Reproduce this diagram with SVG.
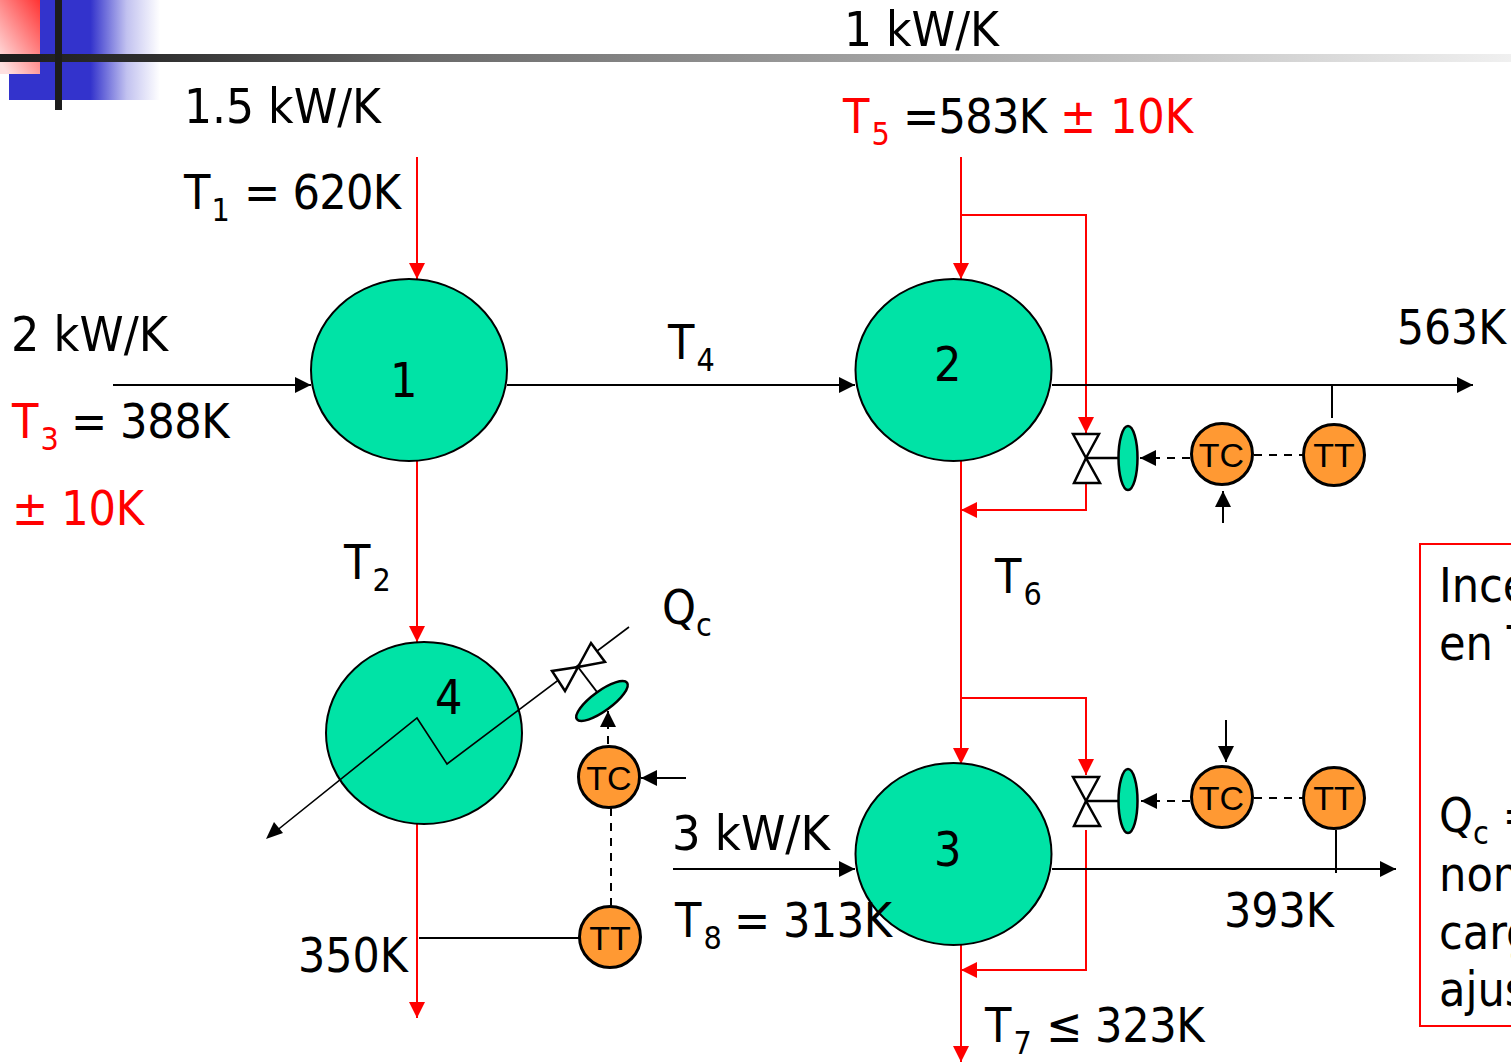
<svg xmlns="http://www.w3.org/2000/svg" width="1511" height="1062" viewBox="0 0 1511 1062">
<style>
text{font-family:"DejaVu Sans Condensed","DejaVu Sans",sans-serif;fill:#000}
.t{font-size:48px}
.s{font-size:32px}
.r{fill:#f00}
.blk{fill:#000}
.nar{letter-spacing:-0.7px}
.i{font-family:"Liberation Sans",Arial,sans-serif;font-size:34px;text-anchor:middle}
.k{fill:none;stroke:#000;stroke-width:2}
.kt{fill:none;stroke:#000;stroke-width:1.6}
.d{fill:none;stroke:#000;stroke-width:2;stroke-dasharray:8 7}
.f{fill:none;stroke:#f00;stroke-width:2}
.n{fill:#00e3a6;stroke:#000;stroke-width:2}
.o{fill:#ff9933;stroke:#000;stroke-width:3}
.v{fill:#fff;stroke:#000;stroke-width:2.5}
.va{fill:#00e3a6;stroke:#000;stroke-width:2.5}
</style>
<defs>
<linearGradient id="b" x1="0" x2="1" y1="0" y2="0"><stop offset="0" stop-color="#3333cc"/><stop offset="0.54" stop-color="#3333cc"/><stop offset="0.78" stop-color="#3333cc" stop-opacity="0.3"/><stop offset="1" stop-color="#3333cc" stop-opacity="0"/></linearGradient>
<linearGradient id="rg" x1="1" y1="0" x2="0.2" y2="1"><stop offset="0" stop-color="#ff3333"/><stop offset="1" stop-color="#ffe0e0"/></linearGradient>
<linearGradient id="bar" x1="0" x2="1" y1="0" y2="0"><stop offset="0" stop-color="#1c1c1c"/><stop offset="0.1" stop-color="#2e2e2e"/><stop offset="0.28" stop-color="#6a6a6a"/><stop offset="1" stop-color="#f0f0f0"/></linearGradient>
<marker id="ar" markerUnits="userSpaceOnUse" markerWidth="18" markerHeight="16" refX="16" refY="8" orient="auto"><path d="M0 0L16 8L0 16Z" fill="#f00"/></marker>
<marker id="ak" markerUnits="userSpaceOnUse" markerWidth="18" markerHeight="16" refX="16" refY="8" orient="auto"><path d="M0 0L16 8L0 16Z" fill="#000"/></marker>
</defs>

<g id="header">
<rect x="9" y="0" width="151" height="100" fill="url(#b)"/>
<rect x="0" y="0" width="40" height="74" fill="url(#rg)"/>
<rect x="0" y="54" width="1511" height="8" fill="url(#bar)"/>
<rect x="55" y="0" width="7" height="110" fill="#1c1c1c"/>
</g>

<g id="connectors">
<path class="f" d="M417 157V279" marker-end="url(#ar)"/>
<path class="f" d="M961 157V279" marker-end="url(#ar)"/>
<path class="f" d="M961 215H1086V433" marker-end="url(#ar)"/>
<path class="f" d="M1086 483V510H961" marker-end="url(#ar)"/>
<path class="f" d="M417 461V642" marker-end="url(#ar)"/>
<path class="f" d="M961 461V764" marker-end="url(#ar)"/>
<path class="f" d="M961 698H1086V775" marker-end="url(#ar)"/>
<path class="f" d="M1086 830V970H961" marker-end="url(#ar)"/>
<path class="f" d="M417 824V1018" marker-end="url(#ar)"/>
<path class="f" d="M961 945V1062" marker-end="url(#ar)"/>
<path class="k" d="M113 385H311" marker-end="url(#ak)"/>
<path class="k" d="M507 385H855" marker-end="url(#ak)"/>
<path class="k" d="M1052 385H1473" marker-end="url(#ak)"/>
<path class="k" d="M673 869H855" marker-end="url(#ak)"/>
<path class="k" d="M1052 869H1396" marker-end="url(#ak)"/>
<path class="k" d="M1332 385V418"/>
<path class="k" d="M1336 830V873"/>
<path class="k" d="M419 938H579"/>
<path class="d" d="M1190 458H1140" marker-end="url(#ak)"/>
<path class="d" d="M1254 455H1303"/>
<path class="d" d="M1190 801H1141" marker-end="url(#ak)"/>
<path class="d" d="M1254 798H1303"/>
<path class="d" d="M611 808V906"/>
<path class="d" d="M608 744V711" marker-end="url(#ak)"/>
<path class="k" d="M1223 523V491" marker-end="url(#ak)"/>
<path class="k" d="M1226 720V762" marker-end="url(#ak)"/>
<path class="k" d="M686 778H641" marker-end="url(#ak)"/>
</g>

<g id="node-1"><ellipse class="n" cx="409" cy="370" rx="98" ry="91"/><text class="t" x="390" y="397">1</text></g>
<g id="node-2"><ellipse class="n" cx="953.500" cy="370" rx="98" ry="91"/><text class="t" x="934" y="381">2</text></g>
<g id="node-3"><ellipse class="n" cx="953.500" cy="854" rx="98" ry="91"/><text class="t" x="934" y="866">3</text></g>
<g id="node-4"><ellipse class="n" cx="424" cy="733" rx="98" ry="91"/><text class="t" x="435" y="714">4</text></g>

<g id="coil-4">
<path class="kt" d="M629 627L447 764L417 718L270 836" />
<path d="M266 839L283 833L274 822Z" fill="#000"/>
<path class="v" d="M578 667L552 671L565 691Z"/>
<path class="v" d="M578 667L591 643L605 662Z"/>
<path class="k" d="M578 667L597 692"/>
<ellipse class="va" cx="602" cy="701" rx="31" ry="10" transform="rotate(-36 602 701)"/>
</g>

<g id="valve-2">
<path class="v" d="M1086 458L1073 434H1099Z"/>
<path class="v" d="M1086 458L1074 483H1100Z"/>
<path class="k" d="M1086 458H1119" style="stroke-width:2.500"/>
<ellipse class="va" cx="1128" cy="458" rx="9.500" ry="32"/>
</g>
<g id="valve-3">
<path class="v" d="M1086 801L1073 777H1099Z"/>
<path class="v" d="M1086 801L1074 826H1100Z"/>
<path class="k" d="M1086 801H1119" style="stroke-width:2.500"/>
<ellipse class="va" cx="1128" cy="801" rx="9.500" ry="32"/>
</g>

<g id="tc-2"><circle class="o" cx="1222" cy="454" r="30.500"/><text class="i" x="1221.500" y="467">TC</text></g>
<g id="tt-2"><circle class="o" cx="1334" cy="455" r="30.500"/><text class="i" x="1334" y="467">TT</text></g>
<g id="tc-3"><circle class="o" cx="1222" cy="797" r="30.500"/><text class="i" x="1221.500" y="810">TC</text></g>
<g id="tt-3"><circle class="o" cx="1334" cy="798" r="30.500"/><text class="i" x="1334" y="810">TT</text></g>
<g id="tc-4"><circle class="o" cx="609" cy="777" r="30.500"/><text class="i" x="609" y="790">TC</text></g>
<g id="tt-4"><circle class="o" cx="610" cy="937" r="30.500"/><text class="i" x="610" y="950">TT</text></g>

<g id="labels">
<text class="t" x="184" y="123" textLength="197" lengthAdjust="spacingAndGlyphs">1.5 kW/K</text>
<text class="t" x="184" y="209">T<tspan class="s" dx="1" dy="12">1</tspan><tspan class="nar" x="244" dy="-12">= 620K</tspan></text>
<text class="t" x="844" y="46" textLength="155" lengthAdjust="spacingAndGlyphs">1 kW/K</text>
<text class="t r" x="843" y="133">T<tspan class="s r" dx="2" dy="12">5</tspan><tspan class="blk nar" x="903" dy="-12">=583K</tspan><tspan x="1060">± 10K</tspan></text>
<text class="t" x="11" y="351" textLength="157" lengthAdjust="spacingAndGlyphs">2 kW/K</text>
<text class="t r" x="12" y="438">T<tspan class="s r" dx="2" dy="12">3</tspan><tspan class="blk nar" x="71" dy="-12" style="letter-spacing:-0.4px">= 388K</tspan></text>
<text class="t r" x="12" y="525" style="letter-spacing:-0.3px">± 10K</text>
<text class="t" x="668" y="359">T<tspan class="s" dx="2" dy="12">4</tspan></text>
<text class="t" x="344" y="579">T<tspan class="s" dx="2" dy="12">2</tspan></text>
<text class="t" x="995" y="593">T<tspan class="s" dx="2" dy="12">6</tspan></text>
<text class="t" x="662" y="624">Q<tspan class="s" dy="12">c</tspan></text>
<text class="t" x="1397" y="344" textLength="109" lengthAdjust="spacingAndGlyphs">563K</text>
<text class="t" x="672" y="850" textLength="158" lengthAdjust="spacingAndGlyphs">3 kW/K</text>
<text class="t" x="675" y="937">T<tspan class="s" dx="2" dy="12">8</tspan><tspan class="nar" x="734" dy="-12" style="letter-spacing:-0.5px">= 313K</tspan></text>
<text class="t" x="1224" y="927" textLength="110" lengthAdjust="spacingAndGlyphs">393K</text>
<text class="t" x="298" y="972" textLength="110" lengthAdjust="spacingAndGlyphs">350K</text>
<text class="t" x="985" y="1042">T<tspan class="s" dx="2" dy="12">7</tspan><tspan class="nar" x="1046" dy="-12" style="letter-spacing:-0.4px">≤ 323K</tspan></text>
</g>

<g id="note">
<path class="f" d="M1511 544H1420V1026H1511"/>
<text class="t" x="1439" y="602">Ince</text>
<text class="t" x="1439" y="660">en T</text>
<text class="t" x="1439" y="832">Q<tspan class="s" dy="12">c</tspan><tspan dy="-12"> =</tspan></text>
<text class="t" x="1439" y="891">nom</text>
<text class="t" x="1439" y="949">carg</text>
<text class="t" x="1439" y="1006">ajus</text>
</g>
</svg>
